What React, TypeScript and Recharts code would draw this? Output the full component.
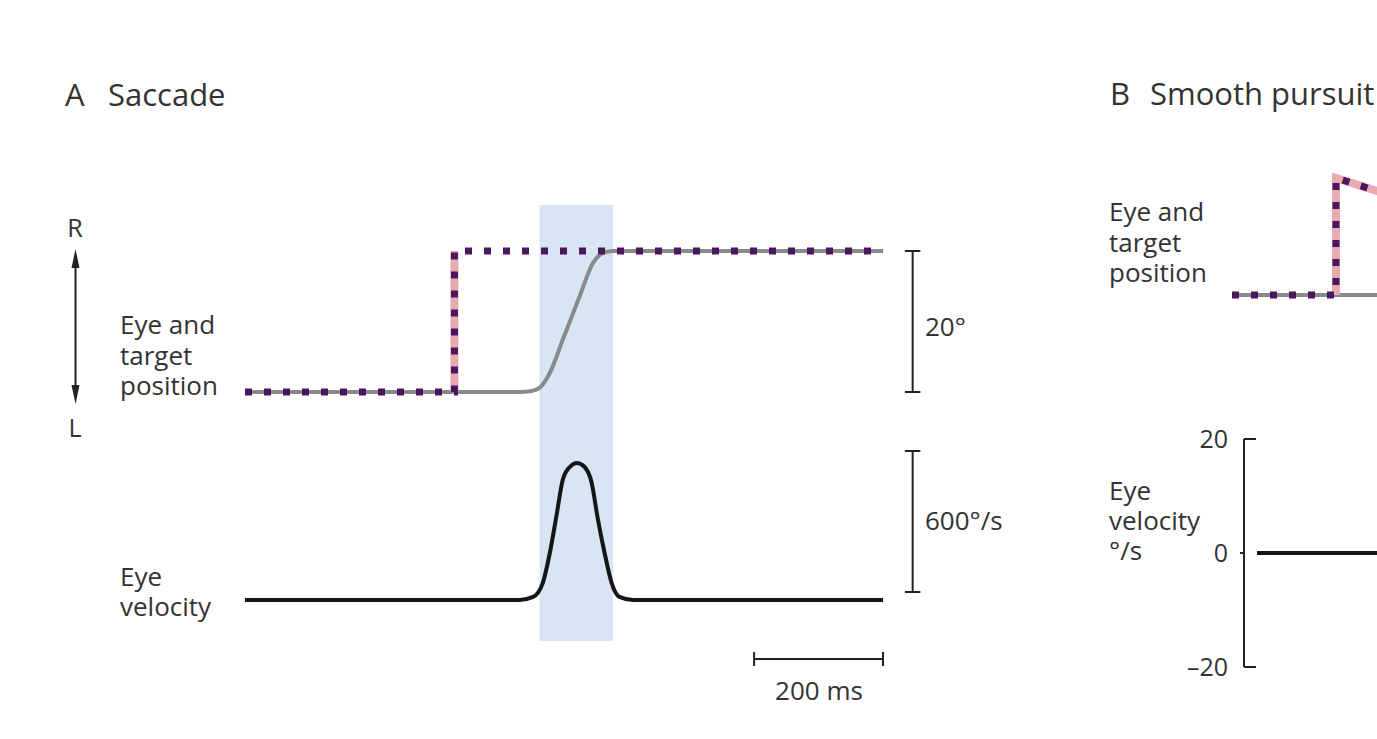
import React from 'react';
import { ComposedChart, Line, XAxis, YAxis, ReferenceArea, ReferenceLine } from 'recharts';

// Panel A: saccade. Time in ms, position in deg, velocity in deg/s
const sacTargetT = [0, 325, 325, 990];
const sacTargetPos = [0, 0, 20, 20];
const sacJumpT = [325, 325];
const sacJumpPos = [0, 20];
const sacEyeT = [0, 426, 442, 457, 473, 493, 519, 540, 550, 561, 574, 990];
const sacEyePos = [0, 0, 0.1, 0.6, 2.7, 7.4, 13.5, 18.3, 19.4, 19.9, 20, 20];
const sacVelT = [0, 426, 447, 462, 473, 484, 493, 504, 515, 527, 538, 547, 558, 569, 581, 602, 990];
const sacVel = [0, 0, 13, 72, 200, 370, 511, 566, 583, 566, 498, 353, 200, 72, 13, 0, 0];
const sacBand = [457, 571];

// Panel B: smooth pursuit (cut off at the right edge)
const purTargetT = [0, 161, 161, 240];
const purTargetPos = [0, 0, 16.6, 14.3];
const purRampT = [161, 161, 240];
const purRampPos = [0, 16.6, 14.3];
const purEyeT = [0, 240];
const purEyePos = [0, 0];
const purVelT = [0, 230];
const purVel = [0, 0];
const purVelTicks = [20, 0, -20];

const zip = (ts: number[], vs: number[]) => ts.map((t, i) => ({ t, v: vs[i] }));

const FONT = '"Open Sans", "Liberation Sans", sans-serif';
const TXT = '#333';
const INK = '#222';
const PURPLE = '#4a175f';
const PINK = '#e9aab1';
const GRAY = '#8a8a8a';
const BLUE = '#d7e5f4';

const Y_AXIS_W = 80;

const VelTick = ({ y, payload }: any) => {
  const v = payload.value;
  const label = v < 0 ? `\u2013${Math.abs(v)}` : `${v}`;
  return (
    <g>
      <text x={Y_AXIS_W - 16} y={y + 9} textAnchor="end" fontFamily={FONT} fontSize={25} fill={TXT}>
        {label}
      </text>
      {v === 0 ? (
        <line x1={Y_AXIS_W - 4} x2={Y_AXIS_W} y1={y} y2={y} stroke={INK} strokeWidth={2} />
      ) : (
        <line x1={Y_AXIS_W} x2={Y_AXIS_W + 12} y1={y} y2={y} stroke={INK} strokeWidth={2} />
      )}
    </g>
  );
};

const bar = { stroke: INK, strokeWidth: 2, ifOverflow: 'visible' as const };

export default function App() {
  return (
    <div style={{ position: 'relative', width: 1377, height: 739, overflow: 'hidden', background: '#fff' }}>
      <style>{'body{margin:0}'}</style>

      {/* blue band marking the saccade */}
      <div style={{ position: 'absolute', left: 245, top: 205 }}>
        <ComposedChart width={638} height={436} margin={{ top: 0, right: 0, bottom: 0, left: 0 }}>
          <XAxis dataKey="t" type="number" domain={[0, 990]} hide />
          <YAxis type="number" domain={[0, 1]} hide />
          <Line data={zip(sacBand, [0, 0])} dataKey="v" stroke="none" dot={false} isAnimationActive={false} />
          <ReferenceArea x1={sacBand[0]} x2={sacBand[1]} y1={0} y2={1} fill={BLUE} fillOpacity={1} stroke="none" ifOverflow="visible" />
        </ComposedChart>
      </div>

      {/* A: eye and target position */}
      <div style={{ position: 'absolute', left: 235, top: 241 }}>
        <ComposedChart width={748} height={161} margin={{ top: 10, right: 100, bottom: 10, left: 10 }}>
          <XAxis dataKey="t" type="number" domain={[0, 990]} hide />
          <YAxis type="number" domain={[0, 20]} hide />
          <Line data={zip(sacEyeT, sacEyePos)} dataKey="v" type="monotone" stroke={GRAY} strokeWidth={4} dot={false} isAnimationActive={false} />
          <Line data={zip(sacJumpT, sacJumpPos)} dataKey="v" type="linear" stroke={PINK} strokeWidth={8} dot={false} isAnimationActive={false} />
          <Line data={zip(sacTargetT, sacTargetPos)} dataKey="v" type="linear" stroke={PURPLE} strokeWidth={7} strokeDasharray="7 12" dot={false} isAnimationActive={false} />
          <ReferenceLine segment={[{ x: 1036, y: 0 }, { x: 1036, y: 20 }]} {...bar} />
          <ReferenceLine segment={[{ x: 1024, y: 0 }, { x: 1048, y: 0 }]} {...bar} />
          <ReferenceLine segment={[{ x: 1024, y: 20 }, { x: 1048, y: 20 }]} {...bar} />
        </ComposedChart>
      </div>

      {/* A: eye velocity */}
      <div style={{ position: 'absolute', left: 235, top: 439 }}>
        <ComposedChart width={748} height={241} margin={{ top: 20, right: 100, bottom: 80, left: 10 }}>
          <XAxis dataKey="t" type="number" domain={[0, 990]} hide />
          <YAxis type="number" domain={[0, 600]} hide />
          <Line data={zip(sacVelT, sacVel)} dataKey="v" type="monotone" stroke="#161616" strokeWidth={4} dot={false} isAnimationActive={false} />
          <ReferenceLine segment={[{ x: 1036, y: 34 }, { x: 1036, y: 634 }]} {...bar} />
          <ReferenceLine segment={[{ x: 1024, y: 34 }, { x: 1048, y: 34 }]} {...bar} />
          <ReferenceLine segment={[{ x: 1024, y: 634 }, { x: 1048, y: 634 }]} {...bar} />
          <ReferenceLine segment={[{ x: 790, y: -251 }, { x: 990, y: -251 }]} {...bar} />
          <ReferenceLine segment={[{ x: 790, y: -221 }, { x: 790, y: -281 }]} {...bar} />
          <ReferenceLine segment={[{ x: 990, y: -221 }, { x: 990, y: -281 }]} {...bar} />
        </ComposedChart>
      </div>

      {/* B: eye and target position */}
      <div style={{ position: 'absolute', left: 1222, top: 144 }}>
        <ComposedChart width={175} height={161} margin={{ top: 10, right: 10, bottom: 10, left: 10 }}>
          <XAxis dataKey="t" type="number" domain={[0, 240]} hide />
          <YAxis type="number" domain={[0, 20]} hide />
          <Line data={zip(purEyeT, purEyePos)} dataKey="v" type="linear" stroke={GRAY} strokeWidth={4} dot={false} isAnimationActive={false} />
          <Line data={zip(purRampT, purRampPos)} dataKey="v" type="linear" stroke={PINK} strokeWidth={8} dot={false} isAnimationActive={false} />
          <Line data={zip(purTargetT, purTargetPos)} dataKey="v" type="linear" stroke={PURPLE} strokeWidth={7} strokeDasharray="7 12" dot={false} isAnimationActive={false} />
        </ComposedChart>
      </div>

      {/* B: eye velocity */}
      <div style={{ position: 'absolute', left: 1244 - Y_AXIS_W, top: 409 }}>
        <ComposedChart width={Y_AXIS_W + 160} height={288} margin={{ top: 30, right: 0, bottom: 30, left: 0 }}>
          <XAxis dataKey="t" type="number" domain={[0, 230]} hide padding={{ left: 13, right: 0 }} />
          <YAxis
            type="number"
            domain={[-20, 20]}
            ticks={purVelTicks}
            width={Y_AXIS_W}
            axisLine={{ stroke: INK, strokeWidth: 2 }}
            tickLine={false}
            tick={<VelTick />}
          />
          <Line data={zip(purVelT, purVel)} dataKey="v" type="linear" stroke="#161616" strokeWidth={4} dot={false} isAnimationActive={false} />
        </ComposedChart>
      </div>

      {/* text and the R/L arrow */}
      <svg width={1377} height={739} style={{ position: 'absolute', left: 0, top: 0, pointerEvents: 'none' }} fontFamily={FONT} fill={TXT}>
        <text x={65} y={106} fontSize={31}>A</text>
        <text x={108} y={106} fontSize={31}>Saccade</text>
        <text x={1110} y={105} fontSize={31}>B</text>
        <text x={1150} y={105} fontSize={31}>Smooth pursuit</text>

        <text x={75} y={237} fontSize={25} textAnchor="middle">R</text>
        <text x={75} y={437} fontSize={25} textAnchor="middle">L</text>
        <line x1={75.5} x2={75.5} y1={260} y2={393} stroke={INK} strokeWidth={2} />
        <path d="M75.5 249 L71.5 268 L79.5 268 Z" fill={INK} />
        <path d="M75.5 404 L71.5 385 L79.5 385 Z" fill={INK} />

        <text x={120} y={334} fontSize={26}>Eye and</text>
        <text x={120} y={365} fontSize={26}>target</text>
        <text x={120} y={395} fontSize={26}>position</text>
        <text x={120} y={586} fontSize={26}>Eye</text>
        <text x={120} y={616} fontSize={26}>velocity</text>

        <text x={925} y={336} fontSize={26}>20°</text>
        <text x={925} y={530} fontSize={26}>600°/s</text>
        <text x={819} y={700} fontSize={26} textAnchor="middle">200 ms</text>

        <text x={1109} y={221} fontSize={26}>Eye and</text>
        <text x={1109} y={252} fontSize={26}>target</text>
        <text x={1109} y={282} fontSize={26}>position</text>
        <text x={1109} y={500} fontSize={26}>Eye</text>
        <text x={1109} y={530} fontSize={26}>velocity</text>
        <text x={1109} y={560} fontSize={26}>°/s</text>
      </svg>
    </div>
  );
}
